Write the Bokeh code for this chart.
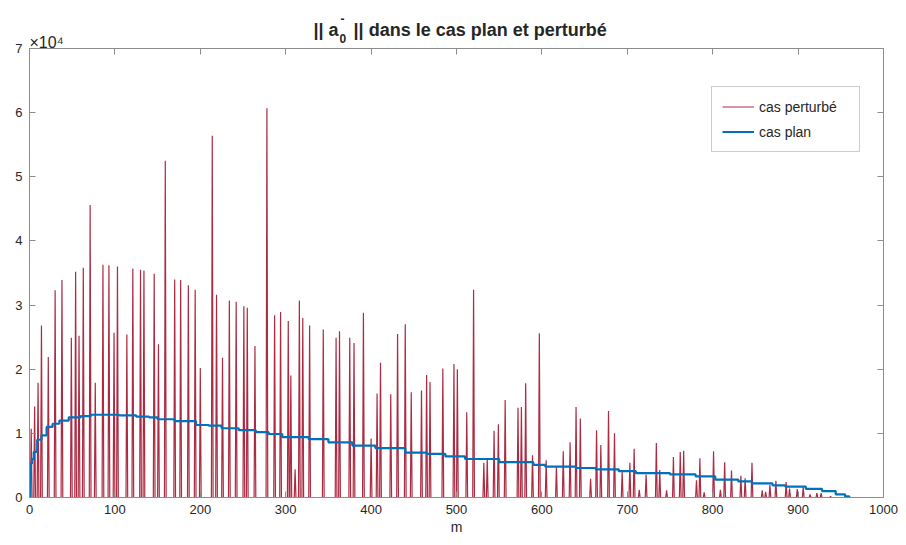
import numpy as np
from bokeh.plotting import figure
from bokeh.models import Range1d, LinearAxis, FixedTicker, Title, Legend, LegendItem
from bokeh.embed import file_html
from bokeh.resources import INLINE

# ---------------- data ----------------
m_last = 960
spike_m = [2, 6, 10, 14, 22, 30, 38, 49, 54, 58, 63, 71, 77, 86, 93, 99, 103, 114, 121, 130,
           134, 146, 151, 159, 170, 177, 186, 194, 200, 214, 219, 226, 234, 242, 251, 255, 264,
           278, 287, 294, 303, 306, 311, 316, 320, 328, 344, 359, 363, 375, 380, 391, 400, 407,
           411, 423, 431, 440, 447, 459, 465, 469, 484, 497, 501, 512, 520, 532, 536, 544, 549,
           557, 572, 576, 581, 589, 597, 605, 617, 625, 633, 640, 645, 657, 664, 669, 678, 685,
           694, 703, 708, 714, 722, 734, 738, 746, 754, 762, 766, 781, 785, 790, 801, 809, 814,
           822, 833, 838, 846, 858, 862, 867, 874, 886, 890, 899, 906, 914, 922, 927, 938]
spike_v = [10700, 14200, 17900, 26800, 21900, 32300, 33900, 24900, 35200, 25200, 35800, 45600,
           17900, 36300, 36200, 25700, 36000, 25400, 35700, 35500, 35400, 34900, 23900, 52500,
           34000, 33900, 33100, 32400, 20200, 56400, 31600, 21800, 30700, 30500, 29800, 29600,
           23600, 60700, 28400, 28900, 27500, 19000, 4400, 30700, 28000, 26800, 26200, 24900,
           25900, 24900, 24100, 28800, 9200, 16200, 21000, 16100, 25500, 27000, 16400, 16700,
           19100, 18000, 20100, 20800, 20000, 13300, 32400, 5400, 6000, 10400, 11400, 15200,
           14000, 14100, 17800, 6600, 25600, 5800, 4800, 7200, 8600, 14100, 12300, 2900, 10500,
           8200, 13500, 10000, 4100, 5400, 7600, 1200, 3600, 8500, 4300, 1100, 6300, 7100, 7300,
           2700, 6100, 800, 7200, 1200, 5500, 4200, 3400, 3000, 5400, 1100, 900, 2000, 2600,
           2400, 1400, 1300, 1600, 500, 700, 700, 200]
plan_m = [0, 1, 3, 5, 9, 14, 20, 27, 35, 46, 60, 72, 105, 125, 140, 150, 170, 195, 210, 225,
          245, 265, 280, 296, 327, 350, 378, 405, 440, 465, 487, 510, 550, 590, 604, 640, 663,
          690, 710, 750, 780, 803, 830, 846, 870, 885, 909, 928, 944, 955, 960]
plan_v = [0, 5300, 6000, 7100, 9000, 9700, 11000, 11500, 12000, 12500, 12700, 12900, 12800,
          12600, 12500, 12200, 11900, 11300, 11200, 10800, 10500, 10200, 9900, 9400, 9100,
          8600, 8100, 7700, 7000, 6800, 6400, 6000, 5500, 5100, 4800, 4600, 4400, 4100, 3800,
          3600, 3300, 2800, 2500, 2200, 1900, 1700, 1350, 1000, 500, 160, 0]

x_ticks = [0, 100, 200, 300, 400, 500, 600, 700, 800, 900, 1000]
y_ticks = [0, 10000, 20000, 30000, 40000, 50000, 60000, 70000]
y_tick_labels = ["0", "1", "2", "3", "4", "5", "6", "7"]

title_text = "|| a\u00a0\u00a0\u00a0|| dans le cas plan et perturbé"
title_sub = "0"
title_sup = "-"
exponent_text = "×10⁴"

m_all = np.arange(0, m_last + 1)
pert = np.zeros(len(m_all))
pert[np.array(spike_m)] = spike_v

TXT = "#262626"
AX = "#8c8c8c"
FONT = "Liberation Sans"

p = figure(width=898, height=540, output_backend="svg", toolbar_location=None,
           x_range=Range1d(0, 1000), y_range=Range1d(0, 70000),
           min_border_left=29, min_border_right=15, min_border_top=48, min_border_bottom=43)
p.xgrid.visible = False
p.ygrid.visible = False
p.outline_line_color = AX

r_pert = p.line(m_all, pert, line_color="#A2142F", line_width=1.2, line_alpha=0.9)
r_plan = p.step(plan_m, plan_v, mode="after", line_color="#0072BD", line_width=2.2)

def style_axis(ax, ticks, show_labels=True):
    ax.ticker = FixedTicker(ticks=ticks)
    ax.axis_line_color = AX
    ax.major_tick_line_color = AX
    ax.major_tick_in = 6
    ax.major_tick_out = 0
    ax.minor_tick_line_color = None
    ax.major_label_text_font = FONT
    ax.major_label_text_font_size = "13px" if show_labels else "0px"
    ax.major_label_text_color = TXT if show_labels else None

style_axis(p.xaxis[0], x_ticks)
style_axis(p.yaxis[0], y_ticks)
p.xaxis[0].major_label_standoff = 7
p.yaxis[0].major_label_standoff = 7
p.yaxis[0].major_label_overrides = {t: s for t, s in zip(y_ticks, y_tick_labels)}
p.xaxis[0].axis_label = "m"
p.xaxis[0].axis_label_text_font = FONT
p.xaxis[0].axis_label_text_font_size = "14px"
p.xaxis[0].axis_label_text_font_style = "normal"
p.xaxis[0].axis_label_text_color = TXT
p.xaxis[0].axis_label_standoff = 2

ra = LinearAxis()
style_axis(ra, y_ticks, show_labels=False)
ra.major_label_standoff = 0
p.add_layout(ra, "right")
ta = LinearAxis()
style_axis(ta, x_ticks, show_labels=False)
ta.major_label_standoff = 0
p.add_layout(ta, "above")

# stacked title pieces (panels stack upward from the frame)
def title(text, size, style, offset, standoff):
    p.add_layout(Title(text=text, text_font=FONT, text_font_size=size, text_font_style=style,
                       text_color=TXT, align="left", offset=offset, standoff=standoff), "above")

title(exponent_text, "16px", "normal", 0, -4)
title(title_sub, "12px", "bold", 339 - 29, -18)
title(title_text, "18px", "bold", 313 - 29, -12)
title(title_sup, "12px", "bold", 340 - 29, 2)

legend = Legend(items=[LegendItem(label="cas perturbé", renderers=[r_pert]),
                       LegendItem(label="cas plan", renderers=[r_plan])],
                location=(682, 345))
legend.label_text_font = FONT
legend.label_text_font_size = "14px"
legend.label_text_color = TXT
legend.border_line_color = "#9a9a9a"
legend.border_line_width = 1
legend.background_fill_color = "white"
legend.background_fill_alpha = 1
legend.padding = 10
legend.spacing = 6
legend.glyph_width = 32
legend.glyph_height = 19
legend.label_standoff = 5
legend.label_width = 90
legend.margin = 0
p.add_layout(legend, "center")

open("out.html", "w").write(file_html(p, INLINE))
